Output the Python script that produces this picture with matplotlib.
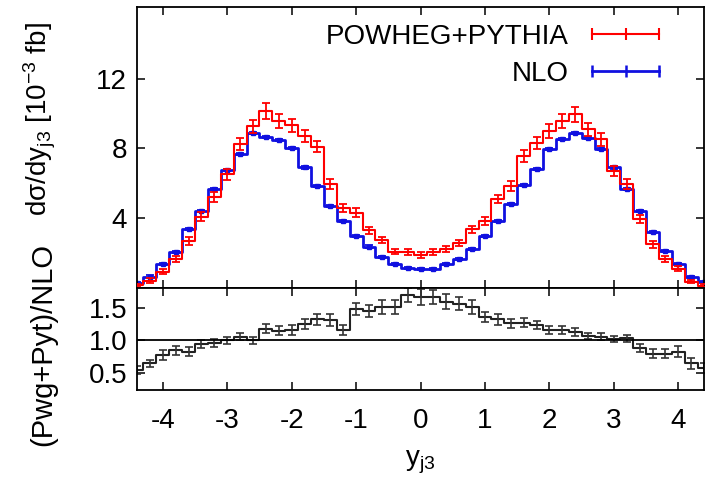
import matplotlib
matplotlib.use("Agg")
import matplotlib.pyplot as plt
from matplotlib.lines import Line2D

# bin centres in y_j3 (bin width 0.2)
y_j3 = [-4.4, -4.2, -4.0, -3.8, -3.6, -3.4, -3.2, -3.0, -2.8, -2.6, -2.4,
        -2.2, -2.0, -1.8, -1.6, -1.4, -1.2, -1.0, -0.8, -0.6, -0.4, -0.2,
        0.0, 0.2, 0.4, 0.6, 0.8, 1.0, 1.2, 1.4, 1.6, 1.8, 2.0, 2.2, 2.4,
        2.6, 2.8, 3.0, 3.2, 3.4, 3.6, 3.8, 4.0, 4.2, 4.4]

# POWHEG+PYTHIA, 10^-3 fb
pwg = [0.15, 0.42, 0.93, 1.66, 2.70, 4.08, 5.22, 6.51, 8.23, 9.27, 10.15,
       9.56, 9.31, 8.70, 8.10, 5.94, 4.58, 4.32, 3.30, 2.75, 2.08, 2.04,
       1.88, 2.04, 2.23, 2.57, 3.37, 3.85, 5.09, 5.85, 7.56, 8.32, 8.99, 9.56, 9.94,
       9.09, 8.51, 6.70, 5.94, 3.94, 2.51, 1.66, 1.09, 0.36, 0.13]
pwg_err = [0.08, 0.12, 0.15, 0.18, 0.22, 0.25, 0.28, 0.30, 0.35, 0.38, 0.45,
           0.40, 0.38, 0.35, 0.33, 0.28, 0.25, 0.24, 0.20, 0.18, 0.16, 0.16,
           0.16, 0.16, 0.16, 0.18, 0.20, 0.22, 0.25, 0.28, 0.33, 0.35, 0.38, 0.40, 0.42,
           0.38, 0.35, 0.30, 0.28, 0.24, 0.20, 0.16, 0.14, 0.10, 0.08]

# NLO
nlo = [0.30, 0.65, 1.37, 2.08, 3.37, 4.42, 5.66, 6.76, 7.66, 8.90, 8.65,
       8.48, 8.04, 6.90, 5.85, 4.70, 3.85, 2.95, 2.37, 1.75, 1.37, 1.12,
       1.09, 1.09, 1.37, 1.66, 2.23, 2.99, 3.85, 4.80, 5.89, 6.80, 7.94, 8.51, 8.86,
       8.61, 7.94, 6.90, 5.66, 4.42, 3.18, 2.13, 1.37, 0.61, 0.33]
nlo_err = [0.06] * len(y_j3)

# (Pwg+Pyt)/NLO
ratio = [0.55, 0.65, 0.78, 0.85, 0.83, 0.94, 0.96, 1.00, 1.06, 1.00, 1.18,
         1.15, 1.16, 1.25, 1.32, 1.31, 1.16, 1.48, 1.45, 1.51, 1.51, 1.69,
         1.66, 1.66, 1.59, 1.56, 1.51, 1.36, 1.32, 1.26, 1.27, 1.23, 1.16, 1.16, 1.13,
         1.07, 1.06, 1.02, 1.03, 0.88, 0.80, 0.80, 0.83, 0.65, 0.58]
ratio_err = [0.06, 0.06, 0.07, 0.07, 0.07, 0.06, 0.06, 0.06, 0.06, 0.06, 0.07,
             0.07, 0.07, 0.07, 0.08, 0.09, 0.07, 0.09, 0.09, 0.10, 0.10, 0.11,
             0.12, 0.11, 0.11, 0.10, 0.10, 0.08, 0.08, 0.07, 0.07, 0.06, 0.06, 0.06, 0.06,
             0.05, 0.05, 0.05, 0.05, 0.06, 0.07, 0.07, 0.08, 0.08, 0.08]

plt.rcParams['font.family'] = ['Liberation Sans', 'DejaVu Sans']
plt.rcParams['mathtext.default'] = 'regular'
plt.rcParams['axes.unicode_minus'] = False
fs = 20

fig = plt.figure(figsize=(7.17, 4.83), dpi=100)
ax1 = fig.add_axes([0.191, 0.404, 0.791, 0.5815])
ax2 = fig.add_axes([0.191, 0.193, 0.791, 0.211])

red = '#ff0000'
blue = '#1010e0'

ax1.step(y_j3, pwg, where='mid', color=red, lw=1.5, zorder=3)
ax1.errorbar(y_j3, pwg, yerr=pwg_err, fmt='none', ecolor=red, elinewidth=1.3,
             capsize=3, capthick=1.3, zorder=3)
ax1.step(y_j3, nlo, where='mid', color=blue, lw=2.0, zorder=2)
ax1.errorbar(y_j3, nlo, yerr=nlo_err, fmt='s', ms=3, color=blue, ecolor=blue,
             elinewidth=1.3, capsize=3, capthick=1.3, zorder=2)

h_pwg = Line2D([], [], color=red, lw=1.5, marker='|', ms=9, mew=1.5)
h_nlo = Line2D([], [], color=blue, lw=2.0, marker='|', ms=9, mew=1.8)
ax1.legend([h_pwg, h_nlo], ['POWHEG+PYTHIA', 'NLO'], loc='upper right',
           bbox_to_anchor=(0.935, 0.94), frameon=False, markerfirst=False,
           numpoints=3, handlelength=3.0, handletextpad=0.55, labelspacing=0.4,
           borderpad=0, borderaxespad=0, fontsize=fs)

ax1.set_xlim(-4.4, 4.4)
ax1.set_ylim(0, 16.1)
ax1.set_yticks([4, 8, 12])
ax1.set_xticks(range(-4, 5))
ax1.tick_params(labelbottom=False)
ax1.set_ylabel(r'd$\sigma$/dy$_{j3}$ [10$^{-3}$ fb]', fontsize=fs)
ax1.yaxis.set_label_coords(-0.14, 0.6)

ax2.step(y_j3, ratio, where='mid', color='#222222', lw=1.5)
ax2.errorbar(y_j3, ratio, yerr=ratio_err, fmt='none', ecolor='#333333',
             elinewidth=1.2, capsize=3, capthick=1.2)
ax2.axhline(1.0, color='black', lw=1.3)
ax2.set_xlim(-4.4, 4.4)
ax2.set_ylim(0.25, 1.8)
ax2.set_yticks([0.5, 1.0, 1.5])
ax2.set_yticklabels(['0.5', '1.0', '1.5'])
ax2.set_xticks(range(-4, 5))
ax2.set_xlabel(r'y$_{j3}$', fontsize=fs, labelpad=11)
ax2.set_ylabel('(Pwg+Pyt)/NLO', fontsize=fs + 1)
ax2.yaxis.set_label_coords(-0.14, 0.44)

for ax in (ax1, ax2):
    ax.tick_params(direction='in', length=6, width=1.1, top=True, right=True,
                   labelsize=fs, pad=7)
    for s in ax.spines.values():
        s.set_linewidth(1.3)
ax2.tick_params(axis='x', pad=13)

fig.savefig('out.png', dpi=100)
